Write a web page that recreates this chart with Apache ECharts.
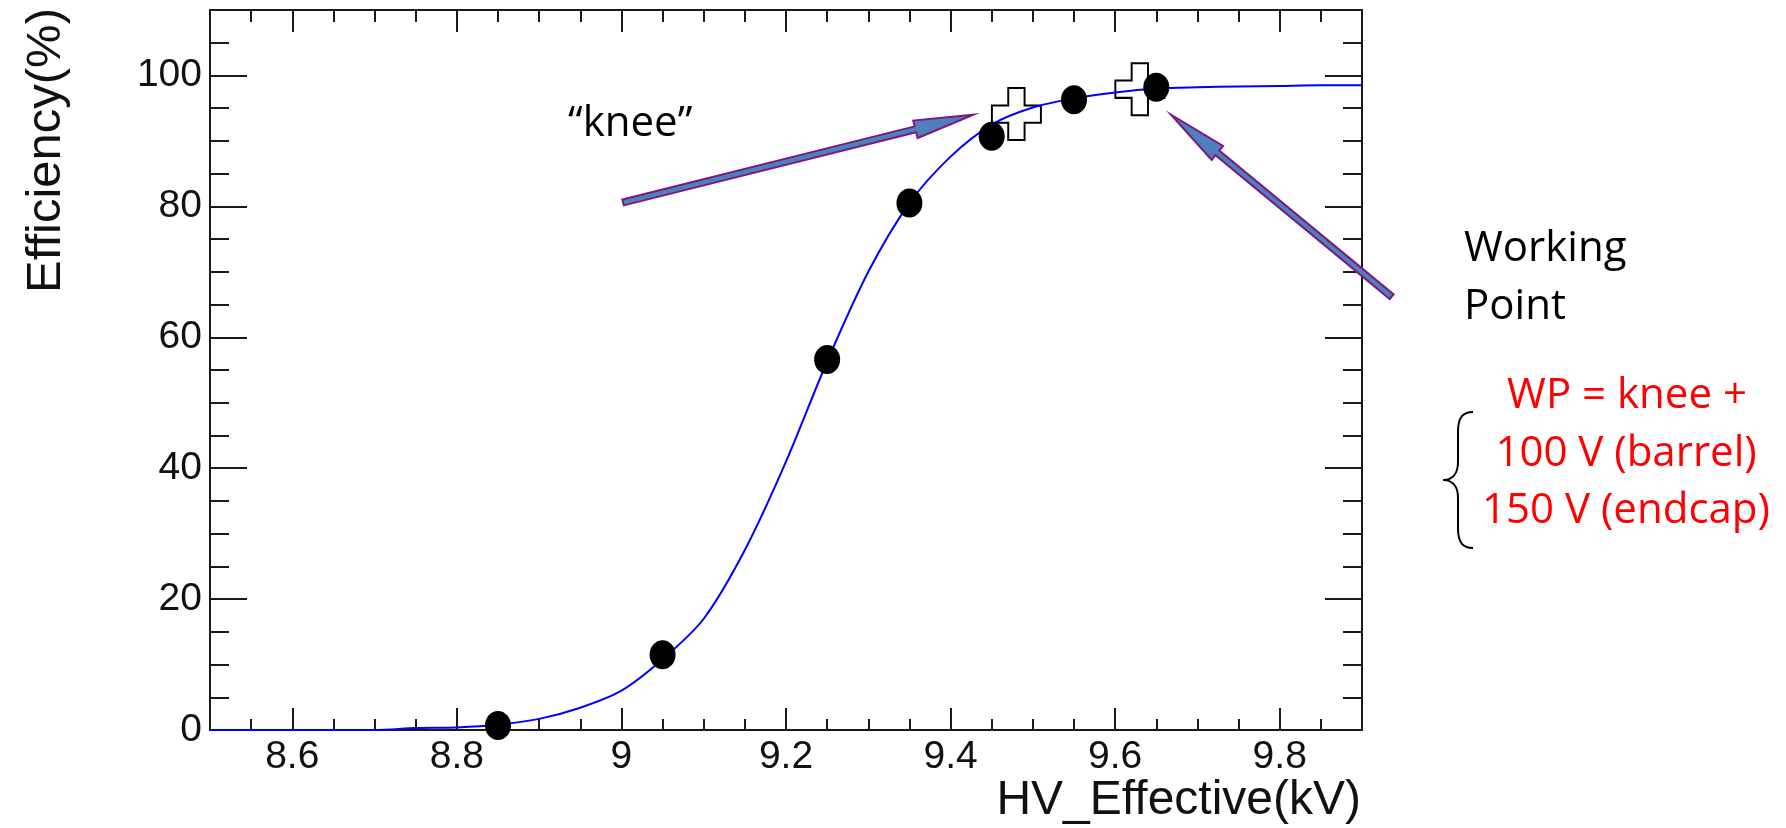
<!DOCTYPE html>
<html>
<head>
<meta charset="utf-8">
<title>Efficiency vs HV_Effective</title>
<script src="https://cdn.jsdelivr.net/npm/echarts@6/dist/echarts.min.js"></script>
<style>
  html, body { margin: 0; padding: 0; background: #fff; }
  #main { width: 1786px; height: 828px; }
</style>
</head>
<body>
<div id="main"></div>
<script>
// measured efficiency points
const hvPoints = [8.85, 9.05, 9.25, 9.35, 9.45, 9.55, 9.65];
const effPoints = [0.7, 11.5, 56.6, 80.5, 90.7, 96.3, 98.2];

// fit curve, every 0.05 kV
const fitHv = [8.5, 8.55, 8.6, 8.65, 8.7, 8.75, 8.8, 8.85, 8.9, 8.95, 9.0, 9.05, 9.1, 9.15, 9.2,
  9.25, 9.3, 9.35, 9.4, 9.45, 9.5, 9.55, 9.6, 9.65, 9.7, 9.75, 9.8, 9.85, 9.9];
const fitEff = [0, 0, 0, 0, 0, 0.3, 0.4, 0.8, 1.7, 3.4, 6.0, 10.8, 17, 27.5, 41,
  56.3, 70, 80.5, 87.6, 92.5, 95.1, 96.5, 97.4, 98, 98.2, 98.3, 98.4, 98.5, 98.5];

// "knee" and working point markers
const markHv = [9.48, 9.63];
const markEff = [94.1, 97.9];

// tick positions
const xMajor = [8.6, 8.8, 9, 9.2, 9.4, 9.6, 9.8];
const xMinor = [8.55, 8.65, 8.7, 8.75, 8.85, 8.9, 8.95, 9.05, 9.1, 9.15, 9.25, 9.3, 9.35,
  9.45, 9.5, 9.55, 9.65, 9.7, 9.75, 9.85];
const yMajor = [0, 20, 40, 60, 80, 100];
const yMinor = [5, 10, 15, 25, 30, 35, 45, 50, 55, 65, 70, 75, 85, 90, 95, 105];

const AXIS = '#1a1a1a';
const SANS = 'Liberation Sans';
const NOTE = 'Open Sans';

function xAxisDef(pos, ticks, len, withLabels) {
    return {
        type: 'value', position: pos, min: 8.5, max: 9.9,
        axisLine: { show: true, onZero: false, lineStyle: { color: AXIS, width: 2 } },
        axisTick: { show: true, inside: true, length: len, customValues: ticks,
            lineStyle: { color: AXIS, width: 2 } },
        axisLabel: withLabels ? {
            show: true, customValues: ticks, margin: 8,
            fontFamily: SANS, fontSize: 39, color: '#111'
        } : { show: false },
        splitLine: { show: false }
    };
}

function yAxisDef(pos, ticks, len, withLabels) {
    return {
        type: 'value', position: pos, min: 0, max: 110,
        axisLine: { show: true, onZero: false, lineStyle: { color: AXIS, width: 2 } },
        axisTick: { show: true, inside: true, length: len, customValues: ticks,
            lineStyle: { color: AXIS, width: 2 } },
        axisLabel: withLabels ? {
            show: true, customValues: ticks, margin: 8, padding: [6, 0, 0, 0],
            fontFamily: SANS, fontSize: 39, color: '#111'
        } : { show: false },
        splitLine: { show: false }
    };
}

const zip = (a, b) => a.map((v, i) => [v, b[i]]);

const chart = echarts.init(document.getElementById('main'));

chart.setOption({
    animation: false,
    backgroundColor: '#fff',
    grid: { left: 210, right: 424, top: 10, bottom: 98, outerBoundsMode: 'none' },
    xAxis: [
        xAxisDef('bottom', xMajor, 22, true),
        xAxisDef('bottom', xMinor, 11, false),
        xAxisDef('top', xMajor, 22, false),
        xAxisDef('top', xMinor, 12, false)
    ],
    yAxis: [
        yAxisDef('left', yMajor, 37, true),
        yAxisDef('left', yMinor, 19, false),
        yAxisDef('right', yMajor, 37, false),
        yAxisDef('right', yMinor, 19, false)
    ],
    series: [
        {
            type: 'scatter', name: 'markers', z: 2,
            data: zip(markHv, markEff),
            symbol: 'path://M8,0 H16 V8 H24 V16 H16 V24 H8 V16 H0 V8 H8 Z',
            symbolSize: [49, 52],
            itemStyle: { color: '#fff', borderColor: '#000', borderWidth: 2, opacity: 1 }
        },
        {
            type: 'line', name: 'fit', z: 3,
            data: zip(fitHv, fitEff),
            showSymbol: false, smooth: 0.3,
            lineStyle: { color: '#0000ff', width: 2 }
        },
        {
            type: 'scatter', name: 'efficiency', z: 4,
            data: zip(hvPoints, effPoints),
            symbol: 'path://M0,15 A13,15 0 1,1 26,15 A13,15 0 1,1 0,15 Z',
            symbolSize: [26, 29],
            itemStyle: { color: '#000', opacity: 1 }
        }
    ]
});

// arrow outline: shaft + narrow head, from tail p0 to tip p1
function arrowPoints(p0, p1, shaft, headLen, headHalf) {
    const dx = p1[0] - p0[0], dy = p1[1] - p0[1];
    const len = Math.hypot(dx, dy);
    const ux = dx / len, uy = dy / len, nx = -uy, ny = ux;
    const bx = p1[0] - ux * headLen, by = p1[1] - uy * headLen;
    const s = shaft / 2;
    return [
        [p0[0] + nx * s, p0[1] + ny * s],
        [bx + nx * s, by + ny * s],
        [bx + nx * headHalf, by + ny * headHalf],
        p1,
        [bx - nx * headHalf, by - ny * headHalf],
        [bx - nx * s, by - ny * s],
        [p0[0] - nx * s, p0[1] - ny * s]
    ];
}

const px = (v) => chart.convertToPixel({ seriesIndex: 2 }, v);

function arrow(tail, tip) {
    return {
        type: 'polygon', z: 100,
        shape: { points: arrowPoints(px(tail), px(tip), 6, 60, 9) },
        style: { fill: '#4f7fbd', stroke: '#7a1b7e', lineWidth: 2 }
    };
}

function note(text, x, y, color, align) {
    return {
        type: 'text', x: x, y: y, z: 100,
        style: {
            text: text, fill: color, font: '42px "' + NOTE + '"',
            textAlign: align, textVerticalAlign: 'middle'
        }
    };
}

// curly brace in front of the red note
const braceStyle = { fill: null, stroke: '#000', lineWidth: 2 };
function curve(x1, y1, c1x, c1y, c2x, c2y, x2, y2) {
    return { type: 'bezierCurve', z: 100, style: braceStyle,
        shape: { x1: x1, y1: y1, cpx1: c1x, cpy1: c1y, cpx2: c2x, cpy2: c2y, x2: x2, y2: y2 } };
}
function seg(x1, y1, x2, y2) {
    return { type: 'line', z: 100, style: braceStyle, shape: { x1: x1, y1: y1, x2: x2, y2: y2 } };
}

chart.setOption({
    graphic: [
        arrow([9.002, 80.6], [9.428, 94.0]),
        arrow([9.936, 66.2], [9.668, 94.0]),
        note('\u201cknee\u201d', 568, 124, '#000', 'left'),
        note('Working', 1464, 249, '#000', 'left'),
        note('Point', 1464, 307, '#000', 'left'),
        note('WP = knee +', 1627, 396, '#ff0000', 'center'),
        note('100 V (barrel)', 1626, 454, '#ff0000', 'center'),
        note('150 V (endcap)', 1626, 511, '#ff0000', 'center'),
        curve(1473, 412, 1463, 412, 1458, 417, 1458, 432),
        seg(1458, 432, 1458, 462),
        curve(1458, 462, 1458, 474, 1452, 480, 1443, 480),
        curve(1443, 480, 1452, 480, 1458, 486, 1458, 498),
        seg(1458, 498, 1458, 528),
        curve(1458, 528, 1458, 543, 1463, 548, 1473, 548),
        {
            type: 'text', x: 1361, y: 801, z: 100,
            style: {
                text: 'HV_Effective(kV)', fill: '#111', font: '48px "' + SANS + '"',
                textAlign: 'right', textVerticalAlign: 'middle'
            }
        },
        {
            type: 'text', x: 46, y: 8, z: 100, rotation: Math.PI / 2,
            style: {
                text: 'Efficiency(%)', fill: '#111', font: '49px "' + SANS + '"',
                textAlign: 'right', textVerticalAlign: 'middle'
            }
        }
    ]
});
</script>
</body>
</html>
